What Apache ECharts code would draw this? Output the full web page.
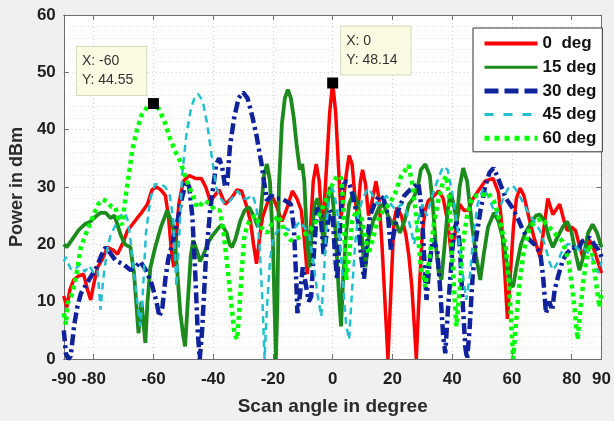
<!DOCTYPE html>
<html>
<head>
<meta charset="utf-8">
<script src="https://cdn.jsdelivr.net/npm/echarts@6/dist/echarts.min.js"></script>
<style>
  html, body { margin: 0; padding: 0; background: #f0f0f0; }
  #chart { width: 614px; height: 421px; }
</style>
</head>
<body>
<div id="chart"></div>
<script>
// scan patterns, [angle in degree, power in dBm]
var scan0 = [
  [-90, 11], [-89, 9], [-88, 12], [-86.7, 13.8], [-85, 14.5], [-83.4, 14.8], [-82, 12], [-81, 10.3],
  [-80, 13], [-78.7, 16], [-77, 17.5], [-75.4, 19.5], [-73.5, 19], [-72, 18.3], [-70, 20.5],
  [-68.7, 22.4], [-67, 23.5], [-65.4, 24.6], [-64, 25.5], [-62, 27], [-60.5, 29.5], [-59, 30],
  [-57.5, 29.5], [-56, 28.5], [-55, 25], [-54, 19], [-53.2, 16], [-52.5, 20], [-51.5, 27], [-50, 31],
  [-48, 32], [-46, 31.5], [-44, 31.5], [-42.5, 30], [-41, 27.6], [-39.5, 28.5], [-38, 29.5], [-36, 27],
  [-34, 28], [-32, 29.5], [-30.5, 29.3], [-29, 27], [-27.5, 24], [-26.5, 20], [-25.5, 16.6], [-24.5, 21],
  [-23.5, 24.7], [-22, 27], [-20.5, 28.6], [-19, 27], [-17, 24], [-15.5, 26], [-13.5, 29.3], [-12, 28],
  [-10.5, 25.9], [-9.5, 21], [-8.5, 14.8], [-7.5, 22], [-6.5, 31], [-5.5, 34], [-4.5, 31], [-3.5, 23],
  [-2.8, 27], [-2, 34], [-1, 43], [0, 48.14], [1, 43], [2, 33], [2.8, 25], [3.5, 27], [4.5, 32],
  [5.5, 35.5], [6.5, 34], [7.5, 28], [8.3, 25], [9.3, 31], [10, 33], [11, 30.5], [12, 25], [13, 27],
  [14.5, 31], [15.5, 28], [16.5, 20], [17.5, 10], [18.5, 0], [19.5, 12], [20.5, 24], [21.5, 26.4],
  [23, 25], [24.5, 21.7], [25.5, 18], [26.5, 12.6], [27.3, 6], [28, 0], [29, 12], [30, 22], [31, 26],
  [32, 27.6], [34, 28.5], [35.5, 29.3], [37, 28], [38.5, 24], [39.7, 18.3], [41, 22], [42.5, 27],
  [44, 25.9], [45.5, 26], [47, 28], [49, 29.5], [51, 31], [53.7, 31.5], [55.5, 29], [56.5, 24],
  [57.5, 16], [58.5, 7], [59.5, 15], [60.5, 23], [61.5, 28], [62.7, 29.8], [64, 28.5], [66, 24],
  [67.5, 21], [69.4, 17.8], [70.5, 22], [72, 28], [73.7, 25.2], [76, 27], [77.5, 24], [78.5, 22.4],
  [80, 23], [81.3, 22.4], [82.5, 20], [83.7, 17.8], [85, 19.5], [86, 20.7], [87.5, 19], [89, 16.6], [90, 15]
];
var scan15 = [
  [-90, 20], [-89, 19.5], [-87, 21], [-85, 22.5], [-83, 23.5], [-81, 24], [-79, 25], [-77.7, 25.5],
  [-76, 25.5], [-74.4, 24.6], [-73, 25], [-71, 21.7], [-69.5, 20], [-67.7, 19.5], [-66.5, 15], [-65.5, 8],
  [-65, 4.5], [-64, 10], [-63.3, 6], [-62.7, 2.8], [-62, 10], [-61, 16], [-59.4, 19.5], [-57.5, 23],
  [-55.4, 25.9], [-54, 24], [-53, 22], [-52, 15], [-51, 8], [-50, 4], [-49.4, 2.2], [-48.5, 10],
  [-47.5, 18], [-46.7, 20.7], [-45.5, 19], [-44.4, 17], [-43, 18.5], [-41.5, 20.5], [-40, 21.7],
  [-38, 23], [-37, 23.4], [-35.5, 22], [-34.5, 20], [-33.7, 19.5], [-32.5, 21], [-31, 24], [-29.5, 25.9],
  [-28, 26.5], [-26.5, 25], [-25, 23], [-24, 26], [-23, 32], [-22, 34], [-21, 31], [-20, 20], [-19.4, 8],
  [-19, 0], [-18.5, 10], [-18, 30], [-17, 41], [-16, 45.5], [-15, 47], [-14, 45.5], [-13, 42], [-12, 37],
  [-11, 33], [-10.2, 34], [-9.5, 31], [-8.7, 22], [-7.8, 16], [-7, 22], [-6, 27], [-5, 28], [-4, 25],
  [-3, 20], [-2, 26], [-1, 30], [0, 28], [1, 22], [2, 12], [2.8, 5.7], [3.5, 14], [4.5, 22], [5.5, 27],
  [7, 29], [8.5, 27], [9.5, 23], [10.3, 18], [11, 16], [12, 21], [13.5, 24], [15.5, 26.4], [17, 27],
  [18.5, 25], [20, 23.5], [21, 24], [22.5, 22], [24, 24], [25.5, 27], [27, 28], [28.5, 30], [29.5, 33],
  [31, 34], [32.5, 32], [33.5, 27], [34.5, 20], [35.5, 15], [36.4, 13.8], [37.5, 20], [38.5, 26],
  [39.5, 29], [40.5, 27], [41.5, 24], [42.5, 30], [43.7, 33.3], [45, 31], [46.5, 24], [48, 18],
  [49.4, 13.8], [50.5, 18], [52, 23], [54, 25.5], [55.5, 24], [57, 21], [58.5, 16], [59.5, 13],
  [60.4, 12.6], [61.5, 16], [63, 20], [64.5, 22], [66, 23.4], [68, 25], [69.4, 25.2], [71, 24],
  [72.5, 21], [73.7, 19.5], [75, 21], [77, 23], [78.5, 24], [80, 22], [81.5, 18], [82.6, 15.5],
  [84, 18], [85.5, 22], [87, 23.5], [88.5, 22], [90, 19.5]
];
var scan30 = [
  [-90, 5], [-89.3, 1], [-88.5, 0], [-87.7, 0.5], [-86.5, 6], [-85.5, 9], [-84.3, 11.4], [-82.5, 13],
  [-81, 14.3], [-79, 16], [-77.5, 18], [-76, 19.5], [-74.5, 18.5], [-72.7, 17.2], [-70, 16.5],
  [-67.7, 15.5], [-66, 16], [-64.4, 17], [-62.5, 15.5], [-60.5, 13], [-59, 10], [-58, 7.4], [-57, 9],
  [-56, 14], [-55, 17.5], [-53.4, 20.7], [-52, 24], [-50.5, 28], [-49, 31], [-48, 30], [-47, 25],
  [-46, 15], [-45.2, 5], [-44.5, 0], [-43.7, 5], [-42.5, 17], [-41, 26], [-40, 30], [-39, 34], [-38, 35],
  [-37, 33.5], [-36, 30], [-35.3, 30.5], [-34.4, 37], [-33, 42], [-31.5, 45.5], [-30, 46.5],
  [-28.5, 45.5], [-27, 42.5], [-25.5, 39], [-24.5, 36], [-23.8, 34], [-23, 31], [-22, 27.6],
  [-20.5, 28.5], [-19, 28], [-17, 28], [-15.5, 27.5], [-14, 27], [-13, 23], [-12.3, 15], [-11.8, 8],
  [-11, 11], [-10, 16], [-9, 13], [-8, 10], [-7.2, 10.9], [-6.5, 17], [-5.2, 26.4], [-4, 25], [-3, 18],
  [-2, 22], [-1, 26], [0, 25], [0.8, 18], [1.5, 13.8], [2.2, 20], [3.2, 30], [4.5, 31], [5.5, 30.7],
  [7, 28], [8.5, 24], [9.5, 18], [10.5, 14], [11.5, 20], [12.5, 25], [14, 27], [15.5, 28.5], [17, 28],
  [18.5, 25], [19.5, 19], [20.5, 22], [22, 26], [24, 28.5], [25.5, 29.3], [27, 30], [28.7, 30.7],
  [29.8, 26], [30.6, 18], [31.4, 10.3], [32.3, 16], [33.5, 21], [35, 19], [36, 12], [37, 4], [37.7, 1],
  [38.5, 8], [39.5, 15], [40.5, 22], [41.5, 24], [42.5, 20], [43.5, 10], [44.4, 2], [45, 0], [45.8, 5],
  [46.8, 14], [48, 21], [49.5, 26], [51, 30], [52.5, 32.5], [53.8, 33.3], [55, 32], [56.5, 30], [58, 28],
  [60, 26.5], [62, 24.5], [63.7, 22.4], [65.5, 21], [67.5, 20], [69.5, 18.5], [70.5, 14], [71.4, 8],
  [72.5, 10], [73.5, 8.5], [74.3, 12], [75.5, 14.5], [77, 17.2], [78.5, 18.5], [80.3, 19.5], [82, 19],
  [83.5, 20.5], [86, 21.2], [87.5, 20], [89, 19], [90, 17.8]
];
var scan45 = [
  [-90, 17], [-89.3, 17.8], [-88.7, 16.9], [-87.5, 15.5], [-86, 15.8], [-84.5, 16.5], [-83, 15.2],
  [-81.5, 16.3], [-80, 15], [-78.7, 15.5], [-77.7, 8.6], [-76.8, 14], [-75.5, 19], [-74.3, 21.7],
  [-72.5, 23.5], [-71, 25], [-69.5, 25.5], [-68.5, 24], [-67.5, 20], [-66.5, 15], [-65.4, 10],
  [-64.4, 5.7], [-63.5, 12], [-62.5, 22], [-61, 28], [-59.5, 30.5], [-57.5, 30.5], [-56, 30],
  [-54.5, 28.5], [-53.3, 24], [-52.3, 12.6], [-51.5, 20], [-50.4, 32], [-49, 39], [-47.5, 43.5],
  [-46, 46], [-45, 46.2], [-43.5, 45], [-42, 41], [-40.4, 35], [-39, 30], [-37.5, 28], [-36, 27],
  [-34.5, 27.5], [-33, 28.5], [-31.8, 29.3], [-30, 28], [-28.5, 28], [-26.8, 28.6], [-25.5, 26.5],
  [-24.5, 20], [-23.5, 10], [-22.8, 0], [-22, 9], [-21, 17], [-20, 21], [-18.5, 22.4], [-16.5, 23],
  [-14.5, 22.5], [-12.5, 23], [-11, 24], [-9.5, 23], [-8, 22], [-6.5, 17], [-5, 11], [-3.8, 7.4],
  [-3, 14], [-2, 24], [-0.6, 30.3], [0.5, 29], [1.5, 26], [2.5, 20], [3.5, 13], [4.5, 6], [5.5, 3.4],
  [6.5, 12], [7.5, 20], [8.5, 25], [10, 28], [12, 29.8], [13.5, 28.5], [15, 27], [16.5, 27.5],
  [18, 28.5], [19.5, 27], [21, 26], [23, 27], [24.5, 26], [26, 23], [27.3, 20], [28.5, 24], [30, 27],
  [31.5, 25], [33, 28], [35, 31], [37, 33.6], [38.5, 33], [40, 29], [41.5, 24], [43, 17], [44.7, 10.3],
  [46, 14.8], [47, 21], [48.5, 27], [50.4, 29.8], [52, 28.5], [53.5, 26.5], [54.7, 25.2], [56, 26.5],
  [57.5, 28.5], [59, 30], [60.4, 30.2], [62, 29], [64, 27], [66, 25], [67.5, 24], [69.4, 22.4], [71, 20],
  [72.5, 17], [73.7, 15.5], [75, 16.5], [76.5, 18.5], [78.5, 20], [80.3, 20], [82.6, 19], [84, 19.5],
  [85.5, 18.5], [87, 17.5], [88, 16.5], [89, 15], [90, 17]
];
var scan60 = [
  [-90, 8], [-89.3, 6], [-88.7, 9.7], [-87.5, 11], [-86, 14], [-84.3, 19.5], [-82.5, 22], [-80.5, 24.5],
  [-78.5, 27], [-77, 27.8], [-75.5, 27.5], [-74, 26.5], [-72.7, 26.4], [-71.5, 24], [-70.5, 23.4],
  [-69.4, 28], [-68, 33], [-67, 36.7], [-65.5, 40], [-64, 42.5], [-62, 44], [-60, 44.55], [-58, 43.5],
  [-56, 41], [-54.4, 38.4], [-52.5, 36], [-51, 34.5], [-49.5, 32], [-48, 30], [-46.7, 28.5],
  [-45.4, 26.4], [-44, 27], [-42.8, 27.6], [-41, 27], [-39.5, 26], [-37.8, 25.9], [-36.5, 22],
  [-35.2, 16], [-34, 10], [-33, 5], [-32.5, 4], [-32, 3.4], [-31.3, 8], [-30.5, 15], [-29.5, 21.7],
  [-28, 24], [-26, 25], [-24, 23], [-22, 22], [-20, 24], [-18, 25], [-16, 22], [-14, 20.7], [-12, 21],
  [-9.5, 21.7], [-7.5, 22.5], [-5.5, 24], [-3.8, 25.9], [-2, 28], [-0.5, 30], [1.5, 32], [3, 31.5],
  [3.8, 24], [4.5, 13.8], [5.5, 18], [6.5, 24], [8, 26], [9.5, 25], [11, 21], [12, 18.3], [13.5, 21],
  [15, 24], [17, 26], [19, 27], [21, 29], [23, 32], [25.4, 33.8], [26.5, 31], [27.5, 27], [28.5, 22],
  [29.5, 16], [31, 12.6], [32.5, 18], [34, 24], [35.5, 28], [37, 31], [38, 32], [39, 28], [40, 18],
  [41.4, 5.7], [42.5, 12], [43.5, 20], [45, 25], [46.5, 28], [48.5, 28.6], [50.4, 28.6], [52, 29],
  [54, 27.5], [56, 24], [58, 19.5], [59, 13], [59.8, 6], [60.4, 0], [61.3, 6], [62.5, 13], [64, 19],
  [66, 23], [68, 24], [70, 24.5], [72.5, 23], [74.7, 21.7], [77, 20.5], [79, 17], [80.5, 11], [81.5, 6],
  [82, 3.4], [82.8, 8], [84, 14], [85.2, 18], [86, 20], [87, 18], [88, 14], [89.3, 9], [90, 12]
];

var seriesNames = ['0  deg', '15 deg', '30 deg', '45 deg', '60 deg'];
var xTicks = [-90, -80, -60, -40, -20, 0, 20, 40, 60, 80, 90];
// data tips shown in the figure: [angle, power]
var tip60 = [-60, 44.55];
var tip0 = [0, 48.14];

var font = '"Liberation Sans", Arial, Helvetica, sans-serif';

function tipMark(p, pos) {
  return {
    symbol: 'rect',
    symbolSize: 11,
    silent: true,
    itemStyle: { color: '#000' },
    label: {
      show: true,
      position: pos,
      formatter: 'X: ' + p[0] + '\nY: ' + p[1].toFixed(2),
      fontFamily: font,
      fontSize: 14,
      lineHeight: 19,
      color: '#333',
      backgroundColor: '#fbfbe3',
      borderColor: '#d8d8c0',
      borderWidth: 1,
      padding: [5, 13, 5, 5]
    },
    data: [{ coord: p, value: p[1] }]
  };
}

var chart = echarts.init(document.getElementById('chart'));

var options = {
  animation: false,
  backgroundColor: '#f0f0f0',
  textStyle: { fontFamily: font },
  grid: {
    left: 63,
    right: 10,
    top: 15,
    bottom: 58,
    show: true,
    backgroundColor: '#fff',
    borderWidth: 0
  },
  legend: {
    orient: 'vertical',
    left: 473,
    top: 28,
    width: 129,
    padding: [7, 6, 5, 9],
    itemGap: 6.7,
    itemWidth: 53,
    itemHeight: 16,
    backgroundColor: '#fff',
    borderColor: '#333',
    borderWidth: 1,
    borderRadius: 0,
    itemStyle: { opacity: 0 },
    textStyle: { fontFamily: font, fontSize: 17, fontWeight: 'bold', color: '#111' },
    data: [
      { name: seriesNames[0], lineStyle: { width: 4 } },
      { name: seriesNames[1], lineStyle: { width: 3 } },
      { name: seriesNames[2], lineStyle: { width: 5, type: [14, 6] } },
      { name: seriesNames[3], lineStyle: { width: 3, type: [9, 10] } },
      { name: seriesNames[4], lineStyle: { width: 5, type: [5, 5] } }
    ]
  },
  xAxis: [
    {
      type: 'value',
      min: -90,
      max: 90,
      interval: 5,
      name: 'Scan angle in degree',
      nameLocation: 'middle',
      nameGap: 38,
      nameTextStyle: { fontFamily: font, fontSize: 19, fontWeight: 'bold', color: '#2b2b2b' },
      axisLine: { onZero: false, lineStyle: { color: '#6e6e6e', width: 1 } },
      axisTick: { show: true, inside: true, length: 5, customValues: xTicks, lineStyle: { color: '#6e6e6e' } },
      axisLabel: {
        customValues: xTicks,
        margin: 12,
        fontFamily: font,
        fontSize: 17,
        fontWeight: 'bold',
        color: '#1e1e1e',
        formatter: function (v) { return xTicks.indexOf(v) >= 0 ? String(v) : ''; }
      },
      splitLine: { show: true, lineStyle: { color: '#cfcfcf', type: [1, 3] } }
    },
    {
      type: 'value',
      position: 'top',
      min: -90,
      max: 90,
      interval: 5,
      axisLine: { onZero: false, lineStyle: { color: '#6e6e6e', width: 1 } },
      axisTick: { show: true, inside: true, length: 5, customValues: xTicks, lineStyle: { color: '#6e6e6e' } },
      axisLabel: { show: false },
      splitLine: { show: false }
    }
  ],
  yAxis: [
    {
      type: 'value',
      min: 0,
      max: 60,
      interval: 10,
      name: 'Power in dBm',
      nameLocation: 'middle',
      nameGap: 36,
      nameRotate: 90,
      nameTextStyle: { fontFamily: font, fontSize: 18, fontWeight: 'bold', color: '#2b2b2b' },
      axisLine: { show: true, onZero: false, lineStyle: { color: '#6e6e6e', width: 1 } },
      axisTick: { show: true, inside: true, length: 5, lineStyle: { color: '#6e6e6e' } },
      axisLabel: { margin: 8, fontFamily: font, fontSize: 17, fontWeight: 'bold', color: '#1e1e1e' },
      minorTick: { show: false, splitNumber: 5 },
      splitLine: { show: true, lineStyle: { color: '#cfcfcf', type: [1, 3] } },
      minorSplitLine: { show: true, lineStyle: { color: '#dcdcdc', type: [1, 3] } }
    },
    {
      type: 'value',
      position: 'right',
      min: 0,
      max: 60,
      interval: 10,
      axisLine: { show: true, onZero: false, lineStyle: { color: '#6e6e6e', width: 1 } },
      axisTick: { show: true, inside: true, length: 5, lineStyle: { color: '#6e6e6e' } },
      axisLabel: { show: false },
      splitLine: { show: false }
    }
  ],
  series: [
    {
      name: seriesNames[0],
      type: 'line',
      symbol: 'none',
      data: scan0,
      lineStyle: { color: '#ff0000', width: 3.5 },
      itemStyle: { color: '#ff0000' },
      markPoint: tipMark(tip0, [14, -51])
    },
    {
      name: seriesNames[1],
      type: 'line',
      symbol: 'none',
      data: scan15,
      lineStyle: { color: '#1c8a1c', width: 3.8 },
      itemStyle: { color: '#1c8a1c' }
    },
    {
      name: seriesNames[2],
      type: 'line',
      symbol: 'none',
      data: scan30,
      lineStyle: { color: '#10239b', width: 4.5, type: [11, 4, 3, 4] },
      itemStyle: { color: '#10239b' }
    },
    {
      name: seriesNames[3],
      type: 'line',
      symbol: 'none',
      data: scan45,
      lineStyle: { color: '#21bfcf', width: 2.5, type: [7, 5] },
      itemStyle: { color: '#21bfcf' }
    },
    {
      name: seriesNames[4],
      type: 'line',
      symbol: 'none',
      data: scan60,
      lineStyle: { color: '#00ff00', width: 4.5, type: [4, 4] },
      itemStyle: { color: '#00ff00' },
      markPoint: tipMark(tip60, [-71, -51])
    }
  ]
};

chart.setOption(options);
</script>
</body>
</html>
